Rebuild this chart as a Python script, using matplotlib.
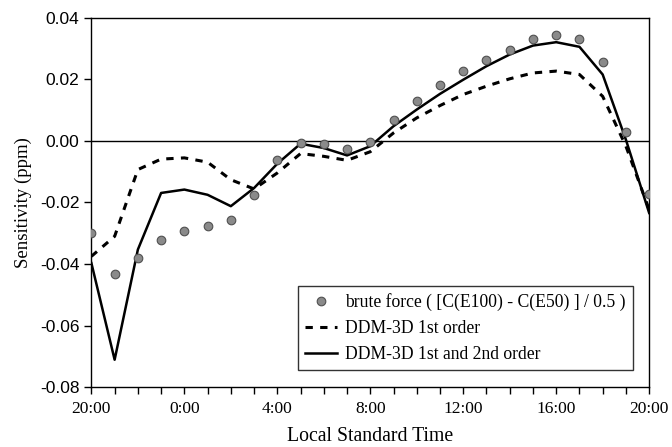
import matplotlib
matplotlib.use("Agg")
import matplotlib.pyplot as plt
import numpy as np

hours = list(range(25))
tick_labels = ["20:00", "0:00", "4:00", "8:00", "12:00", "16:00", "20:00"]

brute_force = [-0.0299, -0.0431, -0.0380, -0.0321, -0.0293, -0.0278, -0.0258, -0.0175,
               -0.0063, -0.0007, -0.0010, -0.0026, -0.0003, 0.0067, 0.0129, 0.0183,
               0.0227, 0.0262, 0.0297, 0.0330, 0.0344, 0.0332, 0.0256, 0.0030, -0.0173]
first_order = [-0.0375, -0.0310, -0.0093, -0.0059, -0.0055, -0.0069, -0.0126, -0.0156,
               -0.0104, -0.0041, -0.0050, -0.0063, -0.0035, 0.0026, 0.0075, 0.0115,
               0.0151, 0.0178, 0.0202, 0.0221, 0.0227, 0.0216, 0.0145, -0.0017, -0.0223]
second_order = [-0.0397, -0.0711, -0.0353, -0.0169, -0.0158, -0.0175, -0.0212, -0.0153,
                -0.0074, -0.0009, -0.0023, -0.0047, -0.0017, 0.0048, 0.0102, 0.0153,
                0.0199, 0.0243, 0.0281, 0.0310, 0.0321, 0.0306, 0.0216, 0.0004, -0.0234]

serif = "Liberation Serif"
sans = "Liberation Sans"

fig = plt.figure(figsize=(6.72, 4.47), dpi=100)
ax = fig.add_axes([0.136, 0.134, 0.830, 0.826])

ax.axhline(0, color="black", lw=1.0, zorder=1)
ax.plot(hours, first_order, color="black", lw=2.2, ls=(0, (2.4, 2.4)), zorder=2,
        label="DDM-3D 1st order")
ax.plot(hours, second_order, color="black", lw=1.8, zorder=3,
        label="DDM-3D 1st and 2nd order")
ax.plot(hours, brute_force, ls="none", marker="o", ms=6.2, mfc="#8a8a8a", mec="#505050",
        mew=0.8, zorder=4, label="brute force ( [C(E100) - C(E50) ] / 0.5 )")

ax.set_xlim(0, 24)
ax.set_ylim(-0.08, 0.04)
ax.set_xticks(range(0, 25, 4))
ax.set_xticklabels(tick_labels, fontfamily=serif, fontsize=12.5)
ax.set_xticks(range(0, 25), minor=True)
ax.set_yticks(np.arange(-0.08, 0.041, 0.02))
ax.set_yticklabels([f"{v:.2f}" for v in np.arange(-0.08, 0.041, 0.02)],
                   fontfamily=sans, fontsize=12.5)
ax.tick_params(axis="both", which="major", direction="out", length=5, width=1)
ax.tick_params(axis="x", which="major", pad=5)
ax.tick_params(axis="x", which="minor", direction="out", length=5, width=1)
for s in ax.spines.values():
    s.set_linewidth(1.0)

ax.set_xlabel("Local Standard Time", fontfamily=serif, fontsize=14.2, labelpad=7)
ax.set_ylabel("Sensitivity (ppm)", fontfamily=serif, fontsize=13.5, labelpad=6)

handles, labels = ax.get_legend_handles_labels()
order = [2, 0, 1]
leg = ax.legend([handles[i] for i in order], [labels[i] for i in order],
                loc="lower right", bbox_to_anchor=(0.971, 0.046), borderaxespad=0,
                prop={"family": serif, "size": 12.7}, frameon=True, fancybox=False,
                edgecolor="black", handlelength=1.8, handletextpad=0.5,
                borderpad=0.4, labelspacing=0.5)
leg.get_frame().set_linewidth(1.0)

fig.savefig("out.png", dpi=100)
